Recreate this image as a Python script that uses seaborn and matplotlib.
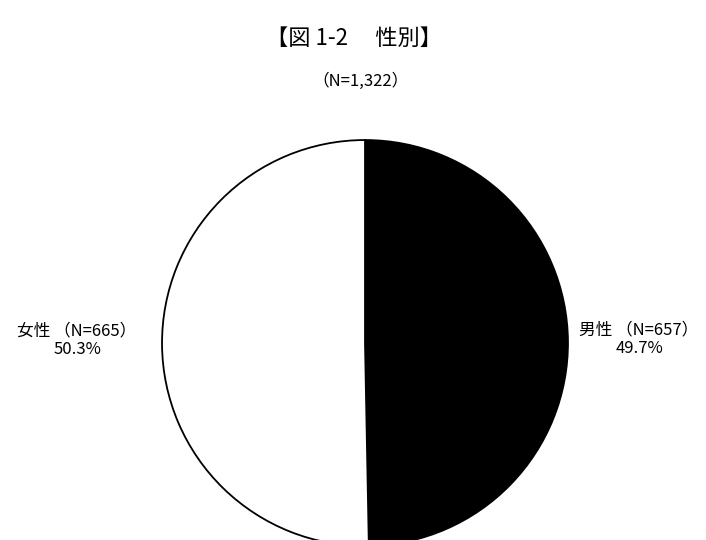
import matplotlib
matplotlib.use("Agg")
import matplotlib.pyplot as plt
import seaborn as sns

# Respondents by sex
categories = ["男性", "女性"]
counts = [657, 665]
percents = [49.7, 50.3]
total = 1322
title = "【図 1-2　 性別】"

sns.set_theme(style="white")
plt.rcParams["font.family"] = ["Noto Sans CJK JP", "DejaVu Sans"]

W, H = 706, 540
fig = plt.figure(figsize=(W / 100, H / 100), dpi=100)
fig.patch.set_facecolor("white")

# Pie axes: centre (365, 343) px, radius 205 px
cx, cy, r = 365, 343, 205
ax = fig.add_axes([(cx - r) / W, (H - cy - r) / H, 2 * r / W, 2 * r / H])
ax.pie(
    percents,
    colors=["black", "white"],
    startangle=90,
    counterclock=False,
    wedgeprops=dict(edgecolor="black", linewidth=1.3),
    radius=1.0,
)
ax.set_xlim(-1.01, 1.01)
ax.set_ylim(-1.01, 1.01)
ax.set_aspect("equal")
ax.axis("off")

fig.text(354 / W, 1 - 38 / H, title, ha="center", va="center", fontsize=16, color="black")
fig.text(361 / W, 1 - 81 / H, f"（N={total:,}）", ha="center", va="center",
         fontsize=12, color="black")

label_pos = {"男性": (639, 339), "女性": (77, 340)}
for cat, n, p in zip(categories, counts, percents):
    x, y = label_pos[cat]
    fig.text(x / W, 1 - y / H, f"{cat} （N={n}）\n{p:.1f}%", ha="center", va="center",
             fontsize=12, color="black", linespacing=1.15)

fig.savefig("out.png", dpi=100, facecolor="white")
